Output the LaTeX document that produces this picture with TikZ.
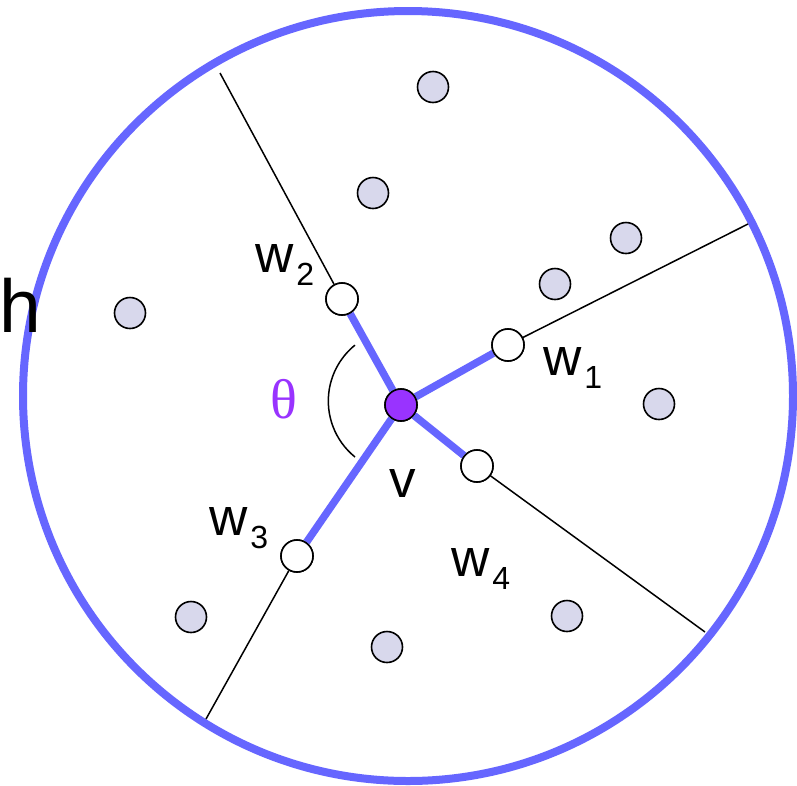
\documentclass[tikz,border=0pt]{standalone}
\usepackage{fontspec}
\setmainfont{Liberation Sans}
\newfontfamily\thetafont{Liberation Serif}
\definecolor{ringblue}{RGB}{102,102,255}
\definecolor{dotfill}{RGB}{216,216,236}
\definecolor{vpurple}{RGB}{153,51,255}
\newcommand{\wlab}[1]{w\hspace{3pt}\raisebox{-13pt}{\fontsize{32}{32}\selectfont #1}}
\begin{document}
\begin{tikzpicture}[x=1pt,y=-1pt,
  dot/.style={circle,draw=black,line width=1.6pt,fill=dotfill,minimum size=31pt,inner sep=0pt},
  wnode/.style={circle,draw=black,line width=1.6pt,fill=white,minimum size=32pt,inner sep=0pt},
  vnode/.style={circle,draw=black,line width=1.6pt,fill=vpurple,minimum size=32pt,inner sep=0pt},
  thin/.style={draw=black,line width=1.5pt},
  blueedge/.style={draw=ringblue,line width=7.5pt},
  wtext/.style={inner sep=0pt,anchor=base west,font=\fontsize{53}{53}\selectfont}]
\useasboundingbox (0,0) rectangle (797,785);
\fill[white] (0,0) rectangle (797,785);
% outer circle
\node[circle,draw=ringblue,line width=8pt,minimum size=770pt,inner sep=0pt] (ring) at (408,396) {};
% boundary points
\coordinate (e1) at (748,224);
\coordinate (e2) at (220,73);
\coordinate (e3) at (206,719);
\coordinate (e4) at (705,632);
% nodes
\node[wnode] (w1) at (508,345) {};
\node[wnode] (w2) at (342,299) {};
\node[wnode] (w3) at (297,556) {};
\node[wnode] (w4) at (477,466) {};
\node[vnode] (v) at (401,405) {};
% thin lines
\draw[thin] (w1) -- (e1);
\draw[thin] (w2) -- (e2);
\draw[thin] (w3) -- (e3);
\draw[thin] (w4) -- (e4);
% blue edges
\draw[blueedge] (v) -- (w1);
\draw[blueedge] (v) -- (w2);
\draw[blueedge] (v) -- (w3);
\draw[blueedge] (v) -- (w4);
% redraw nodes on top
\node[wnode] at (508,345) {};
\node[wnode] at (342,299) {};
\node[wnode] at (297,556) {};
\node[wnode] at (477,466) {};
\node[vnode] at (401,405) {};
% angle arc
\draw[thin] (355,457) arc[start angle=129, end angle=231, radius=72];
% dots
\node[dot] (d1) at (433,87) {};
\node[dot] (d2) at (373,193) {};
\node[dot] (d3) at (626,238) {};
\node[dot] (d4) at (555,284) {};
\node[dot] (d5) at (130,313) {};
\node[dot] (d6) at (659,404) {};
\node[dot] (d7) at (191,617) {};
\node[dot] (d8) at (387,647) {};
\node[dot] (d9) at (567,616) {};
% labels
\node[wtext] (l2) at (255,272) {\wlab{2}};
\node[wtext] (l1) at (543,375) {\wlab{1}};
\node[wtext] (l3) at (209,535) {\wlab{3}};
\node[wtext] (l4) at (451,576) {\wlab{4}};
\node[inner sep=0pt,anchor=base,font=\fontsize{53}{53}\selectfont] (lv) at (403,497) {v};
\node[inner sep=0pt,text=vpurple,font=\fontsize{56}{56}\selectfont\thetafont] (lt) at (284,399) {θ};
\node[inner sep=0pt,anchor=base west,font=\fontsize{75}{75}\selectfont] (lh) at (-1,332) {h};
\end{tikzpicture}
\end{document}
